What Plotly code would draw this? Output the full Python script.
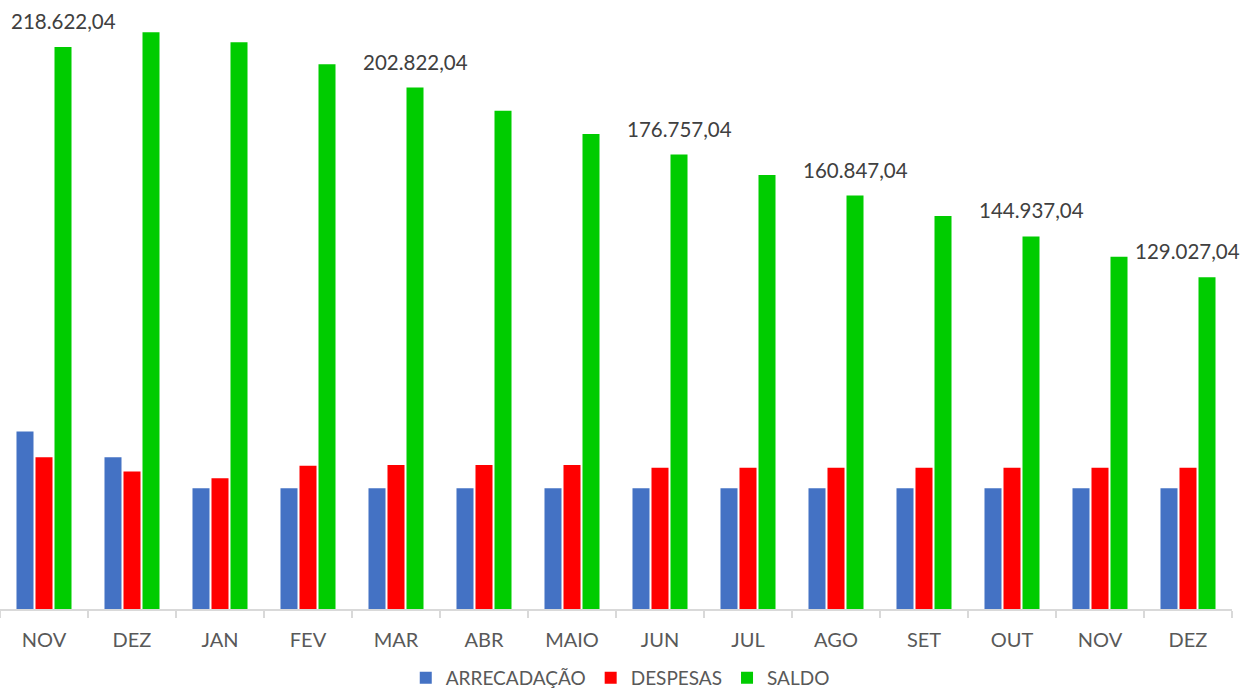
import plotly.graph_objects as go

meses = ["NOV", "DEZ", "JAN", "FEV", "MAR", "ABR", "MAIO", "JUN", "JUL", "AGO", "SET", "OUT", "NOV ", "DEZ "]
tick_labels = ["NOV", "DEZ", "JAN", "FEV", "MAR", "ABR", "MAIO", "JUN", "JUL", "AGO", "SET", "OUT", "NOV", "DEZ"]

arrecadacao = [69000, 59000, 47000, 47000, 47000, 47000, 47000, 47000, 47000, 47000, 47000, 47000, 47000, 47000]
despesas = [59000, 53500, 50900, 55700, 56000, 56000, 56000, 54955, 54955, 54955, 54955, 54955, 54955, 54955]
saldo = [218622.04, 224340, 220450, 211890, 202822.04, 193840, 184780, 176757.04, 168802.04,
         160847.04, 152892.04, 144937.04, 136982.04, 129027.04]

# which SALDO bars carry a data label
label_idx = [0, 4, 7, 9, 11, 13]


def fmt_br(v):
    s = f"{v:,.2f}"
    return s.replace(",", "X").replace(".", ",").replace("X", ".")


FONT = "Lato"
GRAY = "#595959"

fig = go.Figure()
fig.add_trace(go.Bar(name="ARRECADAÇÃO", x=meses, y=arrecadacao, marker=dict(color="#4472C4", line=dict(width=0))))
fig.add_trace(go.Bar(name="DESPESAS", x=meses, y=despesas, marker=dict(color="#FF0000", line=dict(width=0))))
fig.add_trace(go.Bar(name="SALDO", x=meses, y=saldo, marker=dict(color="#00CC00", line=dict(width=0))))

for i in label_idx:
    last = i == len(meses) - 1
    fig.add_annotation(
        x=meses[i], y=saldo[i], text=fmt_br(saldo[i]),
        xref="x", yref="y", showarrow=False,
        xanchor="right" if last else "center", yanchor="bottom", yshift=12,
        xshift=54 if last else 19,
        font=dict(family=FONT, size=20.5, color="#404040"),
    )

fig.update_layout(
    width=1243, height=690, autosize=False,
    barmode="group", bargap=0.352, bargroupgap=0.105,
    plot_bgcolor="white", paper_bgcolor="white",
    margin=dict(l=0, r=11, t=10, b=81, autoexpand=False),
    font=dict(family=FONT, size=19, color=GRAY),
    showlegend=True,
    legend=dict(
        orientation="h", xref="container", yref="container",
        x=0.499, xanchor="center", y=0.0174, yanchor="middle",
        font=dict(family=FONT, size=19, color=GRAY),
        itemwidth=30, traceorder="normal",
    ),
)
fig.update_xaxes(
    type="category", tickmode="array", tickvals=meses, ticktext=tick_labels,
    range=[-0.5, len(meses) - 0.5], autorange=False,
    showline=True, linecolor="#D9D9D9", linewidth=1.5,
    ticks="outside", tickson="boundaries", ticklen=7, tickcolor="#D9D9D9", tickwidth=1.5,
    ticklabelstandoff=12,
    tickfont=dict(family=FONT, size=20, color=GRAY),
    showgrid=False, zeroline=False,
)
fig.update_yaxes(
    range=[0, 599 * 389.0], autorange=False, visible=False, showgrid=False, zeroline=False,
)

fig.write_html(
    "out.html",
    config={"responsive": False, "displayModeBar": False},
    post_script="document.body.style.margin='0';document.body.style.overflow='hidden';",
)
